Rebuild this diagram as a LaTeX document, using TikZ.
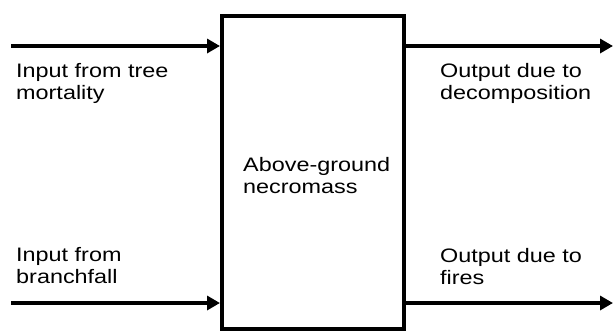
\documentclass[tikz,border=0pt]{standalone}
\usepackage{fontspec}
\setmainfont{Liberation Sans}[FakeStretch=1.2]
\usetikzlibrary{arrows.meta}
\tikzset{
  flow/.style={line width=4pt, -{Triangle[length=13pt,width=14pt]}},
  pool/.style={draw, line width=4pt, inner sep=0pt, minimum width=182pt, minimum height=313pt},
  lbl/.style={anchor=base west, align=left, inner sep=0pt, font=\fontsize{19.5}{22}\selectfont}
}
\begin{document}
\begin{tikzpicture}[x=1pt,y=-1pt]
\useasboundingbox (0,0) rectangle (613,333);
% the necromass pool
\node (box) [pool] at (313,172.5) {};
\node (boxtxt) [lbl] at (243,193) {Above-ground\\necromass};
% inputs
\coordinate (inA) at (11,46);
\coordinate (inB) at (11,303);
\draw[flow] (inA) -- (inA -| box.west);
\draw[flow] (inB) -- (inB -| box.west);
% outputs
\coordinate (outA) at (613,46);
\coordinate (outB) at (613,303);
\draw[flow] (outA -| box.east) -- (outA);
\draw[flow] (outB -| box.east) -- (outB);
% labels (anchored on the baseline of their last line)
\node (lblA) [lbl] at (16,99) {Input from tree\\mortality};
\node (lblB) [lbl] at (16,283) {Input from\\branchfall};
\node (lblC) [lbl] at (440,99) {Output due to\\decomposition};
\node (lblD) [lbl] at (440,284) {Output due to\\fires};
\end{tikzpicture}
\end{document}
